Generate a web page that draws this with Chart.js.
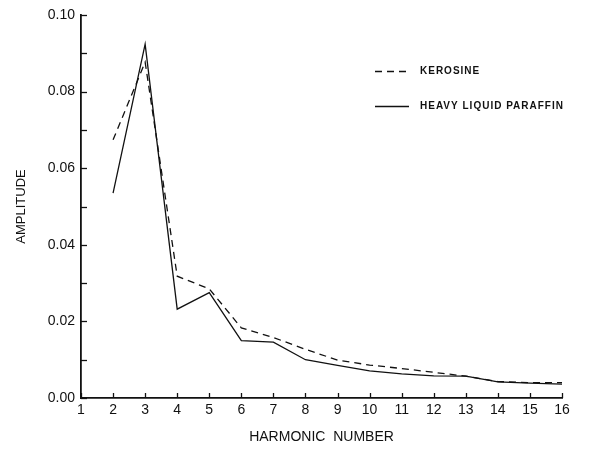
<!DOCTYPE html>
<html>
<head>
<meta charset="utf-8">
<script src="https://cdn.jsdelivr.net/npm/chart.js@4/dist/chart.umd.min.js"></script>
<style>
html,body{margin:0;padding:0;background:#fff;}
canvas{display:block;}
</style>
</head>
<body>
<canvas id="c" width="604" height="453"></canvas>
<script>
const harmonics = [2,3,4,5,6,7,8,9,10,11,12,13,14,15,16];
const kerosine = [0.0674,0.0877,0.0318,0.0285,0.0183,0.0158,0.0127,0.0099,0.0086,0.0077,0.0067,0.0057,0.0043,0.0040,0.0040];
const paraffin = [0.0535,0.0924,0.0232,0.0275,0.0150,0.0146,0.0100,0.0085,0.0071,0.0063,0.0058,0.0057,0.0042,0.0039,0.0036];
const seriesLabels = ['KEROSINE','HEAVY LIQUID PARAFFIN'];
const xTitle = 'HARMONIC  NUMBER';
const yTitle = 'AMPLITUDE';

const INK = '#111';
const FONT = "'Liberation Sans', Arial, Helvetica, sans-serif";

const innerTicks = {
  id: 'innerTicks',
  afterDraw(chart) {
    const ctx = chart.ctx, a = chart.chartArea;
    const xs = chart.scales.x, ys = chart.scales.y;
    ctx.save();
    ctx.strokeStyle = INK;
    ctx.lineWidth = 1.3;
    ys.ticks.forEach(t => {
      const y = Math.round(ys.getPixelForValue(t.value)) + 0.5;
      ctx.beginPath(); ctx.moveTo(a.left, y); ctx.lineTo(a.left + 6, y); ctx.stroke();
    });
    xs.ticks.forEach(t => {
      const x = Math.round(xs.getPixelForValue(t.value)) + 0.5;
      ctx.beginPath(); ctx.moveTo(x, a.bottom); ctx.lineTo(x, a.bottom - 5); ctx.stroke();
    });
    ctx.restore();
  }
};

const legendPlugin = {
  id: 'inLegend',
  afterDraw(chart) {
    const ctx = chart.ctx;
    ctx.save();
    ctx.font = 'bold 10px ' + FONT;
    try { ctx.letterSpacing = '1px'; } catch (e) {}
    ctx.fillStyle = INK;
    ctx.textBaseline = 'middle';
    const rows = [71, 106];
    chart.data.datasets.forEach((ds, i) => {
      const y = rows[i] + 0.5;
      ctx.strokeStyle = INK;
      ctx.lineWidth = 1.4;
      ctx.setLineDash(ds.borderDash || []);
      ctx.beginPath(); ctx.moveTo(375, y); ctx.lineTo(409, y); ctx.stroke();
      ctx.setLineDash([]);
      ctx.fillText(ds.label, 420, y);
    });
    ctx.restore();
  }
};

new Chart(document.getElementById('c'), {
  type: 'line',
  data: {
    datasets: [
      {
        label: seriesLabels[0],
        data: harmonics.map((h, i) => ({x: h, y: kerosine[i]})),
        borderColor: INK, borderWidth: 1.3, borderDash: [7, 5],
        pointRadius: 0, tension: 0, fill: false
      },
      {
        label: seriesLabels[1],
        data: harmonics.map((h, i) => ({x: h, y: paraffin[i]})),
        borderColor: INK, borderWidth: 1.3,
        pointRadius: 0, tension: 0, fill: false
      }
    ]
  },
  options: {
    responsive: false,
    animation: false,
    devicePixelRatio: 1,
    layout: {padding: {top: 15, right: 42, left: 0, bottom: 0}},
    plugins: {legend: {display: false}, tooltip: {enabled: false}},
    scales: {
      x: {
        type: 'linear', min: 1, max: 16,
        grid: {display: true, drawOnChartArea: false, drawTicks: false, tickLength: 0},
        border: {display: true, color: INK, width: 1.8},
        ticks: {stepSize: 1, color: INK, padding: 4, font: {family: FONT, size: 14}, maxRotation: 0, autoSkip: false},
        title: {display: true, text: xTitle, color: INK, font: {family: FONT, size: 14}, padding: {top: 0, bottom: 7}},
        afterFit(s) { s.height = 55; }
      },
      y: {
        min: 0, max: 0.10,
        grid: {display: true, drawOnChartArea: false, drawTicks: false, tickLength: 0},
        border: {display: true, color: INK, width: 1.8},
        ticks: {
          stepSize: 0.01, color: INK, padding: 6, font: {family: FONT, size: 14},
          callback: v => (Math.round(v * 100) % 2 === 0 ? v.toFixed(2) : '')
        },
        title: {display: true, text: yTitle, color: INK, font: {family: FONT, size: 13}, padding: {top: 14, bottom: 0}},
        afterFit(s) { s.width = 81; }
      }
    }
  },
  plugins: [innerTicks, legendPlugin]
});
</script>
</body>
</html>
